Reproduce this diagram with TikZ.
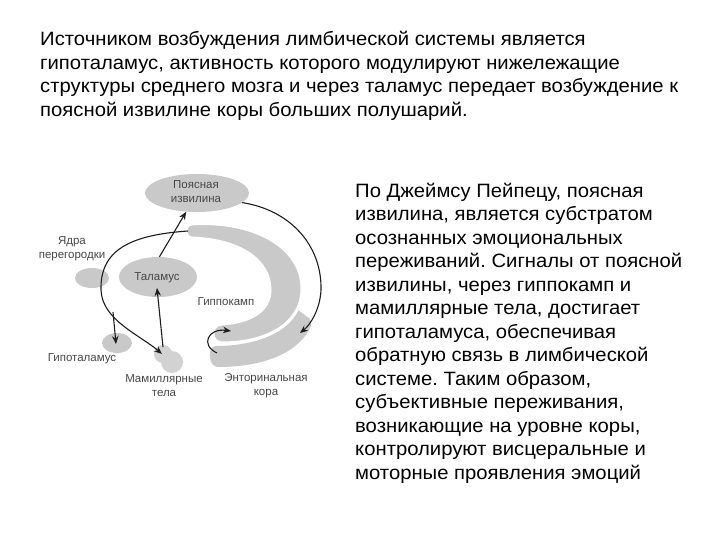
\documentclass[tikz,border=0pt]{standalone}
\usepackage{fontspec}
\setmainfont{Liberation Sans}
\newfontfamily\bodyfont{Liberation Sans}[FakeStretch=1.05]
\usetikzlibrary{shapes.geometric,arrows.meta,calc}
\definecolor{shapegrey}{HTML}{C9C9C9}
\definecolor{mamgrey}{HTML}{D2D2D2}
\definecolor{labelgrey}{HTML}{484848}
\definecolor{arrowc}{HTML}{1E1E1E}
\frenchspacing
\begin{document}
\begin{tikzpicture}[x=1pt,y=-1pt,
  grey/.style={fill=shapegrey, draw=none},
  ell/.style={ellipse, fill=shapegrey, draw=none, inner sep=0},
  lbl/.style={font=\fontsize{11.5}{14}\selectfont, text=labelgrey, align=center, inner sep=0},
  arr/.style={draw=arrowc, line width=1.1pt, -{Stealth[length=8pt,width=6.5pt]}},
  txt/.style={font=\bodyfont\fontsize{19.3}{22}\selectfont, anchor=base west, inner sep=0}
]
\useasboundingbox (0,0) rectangle (720,540);
\fill[white] (0,0) rectangle (720,540);

% top paragraph
\foreach \t [count=\i] in {%
  {Источником возбуждения лимбической системы является},
  {гипоталамус, активность которого модулируют нижележащие},
  {структуры среднего мозга и через таламус передает возбуждение к},
  {поясной извилине коры больших полушарий.}}
  \node[txt] (top\i) at (40,{45.5+(\i-1)*23.7}) {\t};

% right paragraph
\foreach \t [count=\i] in {%
  {По Джеймсу Пейпецу, поясная},
  {извилина, является субстратом},
  {осознанных эмоциональных},
  {переживаний. Сигналы от поясной},
  {извилины, через гиппокамп и},
  {мамиллярные тела, достигает},
  {гипоталамуса, обеспечивая},
  {обратную связь в лимбической},
  {системе. Таким образом,},
  {субъективные переживания,},
  {возникающие на уровне коры,},
  {контролируют висцеральные и},
  {моторные проявления эмоций}}
  \node[txt] (right\i) at (355,{197+(\i-1)*23.5}) {\t};

% entorhinal cortex band (under the hippocampus)
\fill[shapegrey] (216,346) .. controls (260,346) and (290,330) .. (298,310)
  -- (309,318) .. controls (312,322) and (312,326) .. (309,330)
  .. controls (295,355) and (260,367) .. (218,367)
  .. controls (208,367) and (207,346) .. (216,346) -- cycle;
% hippocampus (C shape)
\path[fill=shapegrey, draw=white, line width=3pt]
  (192,224) .. controls (250,220) and (303,245) .. (302,290)
  .. controls (301,325) and (265,343) .. (222,343)
  .. controls (210,343) and (210,324) .. (222,324)
  .. controls (252,322) and (270,310) .. (270,290)
  .. controls (270,260) and (240,240) .. (192,238)
  .. controls (184,238) and (184,224) .. (192,224) -- cycle;

% ellipses
\node[ell, minimum width=104, minimum height=38] (poyas) at (197,193) {};
\node[ell, minimum width=78, minimum height=40] (thal) at (158,277) {};
\node[ell, minimum width=34, minimum height=20] (septum) at (92,278) {};
\node[ell, minimum width=30, minimum height=20] (hyp) at (117,343) {};
\node[circle, fill=mamgrey, inner sep=0, minimum size=18] (mam1) at (163,354) {};
\node[circle, fill=mamgrey, inner sep=0, minimum size=22] (mam2) at (172,362) {};

% labels
\node[lbl] (poyaslbl) at (196,192) {Поясная\\извилина};
\node[lbl] (thallbl) at (157,278) {Таламус};
\node[lbl] (septlbl) at (72,249) {Ядра\\перегородки};
\node[lbl] (hyplbl) at (82,359) {Гипоталамус};
\node[lbl] (mamlbl) at (164,386) {Мамиллярные\\тела};
\node[lbl] (hiplbl) at (226,302) {Гиппокамп};
\node[lbl] (entlbl) at (266,386) {Энторинальная\\кора};

% connector ends
\coordinate (hipTop) at (188,231);
\coordinate (hipIn) at (300,333);
\coordinate (thalTip) at (157,288);
\coordinate (mamTop) at (163,347);
\coordinate (mamTip) at (162,354);
\coordinate (branch) at (113,312);
\coordinate (hypTip) at (116,344);
\coordinate (entL) at (217,353);
\coordinate (hipL) at (231,331);

% connectors
\draw[arr] (poyas.-12) .. controls (290,210) and (322,245) .. (321,290)
  .. controls (320,310) and (310,325) .. (hipIn);
\draw[arr] (thal.86) -- (poyas.240);
\draw[arr] (mamTop) -- (thalTip);
\draw[arr] (hipTop) .. controls (130,235) and (100,250) .. (101,290)
  .. controls (102,320) and (140,335) .. (mamTip);
\draw[arr] (branch) -- (hypTip);
\draw[arr] (entL) .. controls (200,345) and (208,328) .. (hipL);
\end{tikzpicture}
\end{document}
